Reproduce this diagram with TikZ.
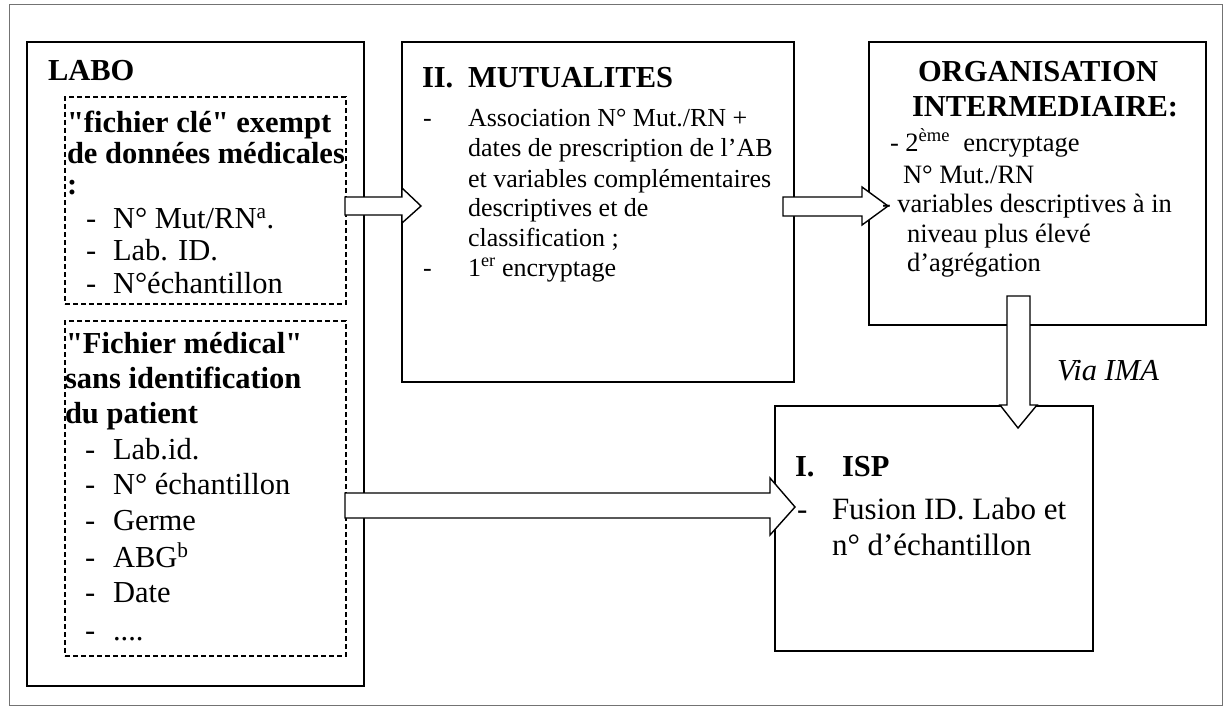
\documentclass[tikz,border=0pt]{standalone}
\usepackage{fontspec}
\setmainfont{Liberation Serif}[Ligatures=TeXOff]
\usetikzlibrary{fit}
\begin{document}
\begin{tikzpicture}[x=1pt,y=-1pt,
  box/.style={draw=black, line width=1.4pt, inner sep=0pt, outer sep=0pt},
  dbox/.style={draw=black, line width=1.2pt, dash pattern=on 5pt off 3pt, inner sep=0pt, outer sep=0pt},
  barrow/.style={draw=black, fill=white, line width=1.4pt, line join=miter},
  t/.style={anchor=base west, inner sep=0pt, outer sep=0pt},
  big/.style={t, font=\fontsize{30.5}{32}\selectfont},
  bigb/.style={t, font=\fontsize{30.5}{32}\selectfont\bfseries},
  mut/.style={t, font=\fontsize{26}{30}\selectfont},
  org/.style={t, font=\fontsize{26.5}{30}\selectfont},
  isp/.style={t, font=\fontsize{31}{36}\selectfont},
  via/.style={t, font=\fontsize{30.5}{32}\selectfont\itshape}]
\useasboundingbox (0,0) rectangle (1225,706);
% outer frame
\node[draw=black!55, line width=1pt, inner sep=0pt, fit={(9,5) (1222,705)}] (frame) {};
% boxes
\node[box, fit={(27,42) (364,686)}] (labo) {};
\node[dbox, fit={(65,97) (346,304)}] (cle) {};
\node[dbox, fit={(65,321) (346,656)}] (med) {};
\node[box, fit={(402,42) (794,382)}] (mutu) {};
\node[box, fit={(869,42) (1206,325)}] (orga) {};
\node[box, fit={(775,406) (1093,651)}] (ispb) {};
% block arrows
\draw[barrow] (345,197) -- (402,197) -- (402,188) -- (421,206) -- (402,223) -- (402,215) -- (345,215) -- cycle;
\draw[barrow] (783,197) -- (862,197) -- (862,187) -- (888,206) -- (862,225) -- (862,216) -- (783,216) -- cycle;
\draw[barrow] (1007,296) -- (1030,296) -- (1030,405) -- (1037,405) -- (1018,428) -- (1000,405) -- (1007,405) -- cycle;
\draw[barrow] (345,493) -- (770,493) -- (770,478) -- (795,507) -- (770,535) -- (770,518) -- (345,518) -- cycle;
% LABO texts
\node[bigb] (labot) at (48,81) {LABO};
\node[bigb] (k1) at (67,132) {"fichier clé" exempt};
\node[bigb] (k2) at (67,163) {de données médicales};
\node[bigb] (k3) at (67,194) {:};
\node[big] (kd1) at (86,228) {-};
\node[big] (kt1) at (113,228) {N° Mut/RN\textsuperscript{a}.};
\node[big] (kd2) at (86,260) {-};
\node[big] (kt2) at (113,260) {Lab. ID.};
\node[big] (kd3) at (86,293) {-};
\node[big] (kt3) at (113,293) {N°échantillon};
\node[bigb] (m1) at (66,353) {"Fichier médical"};
\node[bigb] (m2) at (65,388) {sans identification};
\node[bigb] (m3) at (65,423) {du patient};
\node[big] (md1) at (85,459) {-};
\node[big] (mt1) at (113,459) {Lab.id.};
\node[big] (md2) at (85,494) {-};
\node[big] (mt2) at (113,494) {N° échantillon};
\node[big] (md3) at (85,530) {-};
\node[big] (mt3) at (113,530) {Germe};
\node[big] (md4) at (85,567) {-};
\node[big] (mt4) at (113,567) {ABG\textsuperscript{b}};
\node[big] (md5) at (85,602) {-};
\node[big] (mt5) at (113,602) {Date};
\node[big] (md6) at (85,640) {-};
\node[big] (mt6) at (113,640) {....};
% MUTUALITES
\node[bigb] (mutn) at (422,88) {II.};
\node[bigb] (mutt) at (468,88) {MUTUALITES};
\node[mut] (ud1) at (423,127) {-};
\node[mut] (u1) at (468,127) {Association N° Mut./RN +};
\node[mut] (u2) at (468,157) {dates de prescription de l’AB};
\node[mut] (u3) at (468,187) {et variables complémentaires};
\node[mut] (u4) at (468,216) {descriptives et de};
\node[mut] (u5) at (468,246) {classification ;};
\node[mut] (ud2) at (423,276) {-};
\node[mut] (u6) at (468,276) {1\textsuperscript{er} encryptage};
% ORGANISATION
\node[bigb] (ot1) at (918,82) {ORGANISATION};
\node[bigb] (ot2) at (912,117) {INTERMEDIAIRE:};
\node[org] (o1) at (890,151) {- 2\textsuperscript{ème}\ \ encryptage};
\node[org] (o2) at (903,183) {N° Mut./RN};
\node[org] (o3) at (882,212) {- variables descriptives à in};
\node[org] (o4) at (907,242) {niveau plus élevé};
\node[org] (o5) at (907,271) {d’agrégation};
% ISP
\node[bigb] (in) at (795,476) {I.};
\node[bigb] (it) at (842,476) {ISP};
\node[isp] (id1) at (797,519) {-};
\node[isp] (i1) at (832,519) {Fusion ID. Labo et};
\node[isp] (i2) at (832,555) {n° d’échantillon};
% Via IMA
\node[via] (via) at (1057,380) {Via IMA};
\end{tikzpicture}
\end{document}
